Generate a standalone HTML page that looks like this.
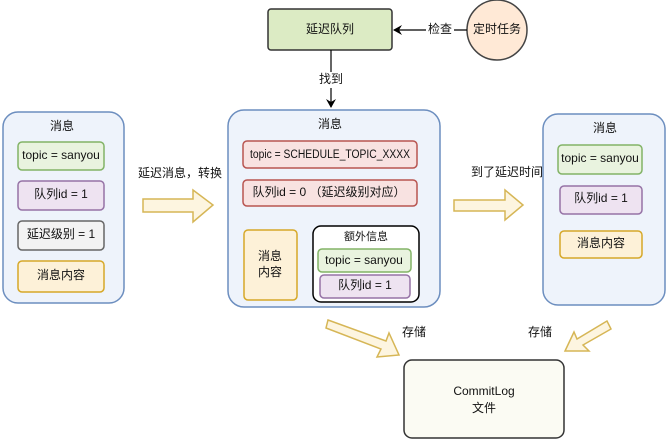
<!DOCTYPE html>
<html><head><meta charset="utf-8"><style>
html,body{margin:0;padding:0;background:#fff;}
svg{display:block;}
text{font-family:"Liberation Sans","Noto Sans CJK SC",sans-serif;font-size:12px;fill:#111;text-anchor:middle;dominant-baseline:middle;}
</style></head><body>
<svg width="667" height="441" viewBox="0 0 667 441" xmlns="http://www.w3.org/2000/svg">
<defs>
<marker id="ah" markerWidth="10" markerHeight="10" refX="8" refY="5" orient="auto" markerUnits="userSpaceOnUse"><path d="M0,0 L9,5 L0,10 L3,5 Z" fill="#000"/></marker>
</defs>
<rect x="268" y="9" width="124" height="41" rx="3" fill="#dcebc4" stroke="#333" stroke-width="1.5"/>
<text x="330" y="30">延迟队列</text>
<circle cx="497" cy="30" r="30" fill="#ffe9d6" stroke="#444" stroke-width="1.5"/>
<text x="497" y="30">定时任务</text>
<line x1="467" y1="30" x2="394" y2="30" stroke="#000" stroke-width="1.2" marker-end="url(#ah)"/>
<rect x="426" y="22" width="28" height="16" fill="#fff"/>
<text x="440" y="30">检查</text>
<line x1="331" y1="50" x2="331" y2="107" stroke="#000" stroke-width="1.2" marker-end="url(#ah)"/>
<rect x="318" y="72" width="26" height="16" fill="#fff"/>
<text x="331" y="80">找到</text>

<rect x="3" y="112" width="121" height="191" rx="15" fill="#eef3fb" stroke="#6c8ebf" stroke-width="1.5"/>
<text x="62" y="127">消息</text>
<rect x="18" y="142" width="86" height="28" rx="4" fill="#e9f3df" stroke="#82b366" stroke-width="1.5"/>
<text x="61" y="156">topic = sanyou</text>
<rect x="18" y="181" width="86" height="29" rx="4" fill="#eee3f1" stroke="#9673a6" stroke-width="1.5"/>
<text x="61" y="195">队列id = 1</text>
<rect x="18" y="221" width="86" height="29" rx="4" fill="#f3f3f3" stroke="#666" stroke-width="1.5"/>
<text x="61" y="235">延迟级别 = 1</text>
<rect x="18" y="261" width="86" height="31" rx="4" fill="#fdf1d8" stroke="#d6a828" stroke-width="1.5"/>
<text x="61" y="276">消息内容</text>

<text x="180" y="174">延迟消息，转换</text>
<path d="M143,199 L193,199 L193,190 L213,205 L193,222 L193,212 L143,212 Z" fill="#fdf5e0" stroke="#d6b656" stroke-width="1.5"/>

<rect x="228" y="110" width="212" height="197" rx="16" fill="#eef3fb" stroke="#6c8ebf" stroke-width="1.5"/>
<text x="330" y="125">消息</text>
<rect x="243" y="141" width="174" height="27" rx="4" fill="#f8e2e1" stroke="#b85450" stroke-width="1.5"/>
<text x="330" y="155" style="font-size:11.5px" textLength="160" lengthAdjust="spacingAndGlyphs">topic = SCHEDULE_TOPIC_XXXX</text>
<rect x="243" y="180" width="174" height="26" rx="4" fill="#f8e2e1" stroke="#b85450" stroke-width="1.5"/>
<text x="329" y="193">队列id = 0 （延迟级别对应）</text>
<rect x="244" y="230" width="53" height="70" rx="4" fill="#fdf1d8" stroke="#d6a828" stroke-width="1.5"/>
<text x="270" y="257">消息</text>
<text x="270" y="273">内容</text>
<rect x="313" y="226" width="106" height="76" rx="8" fill="#fff" stroke="#000" stroke-width="1.5"/>
<text x="366" y="237" style="font-size:11px">额外信息</text>
<rect x="318" y="249" width="93" height="23" rx="4" fill="#e9f3df" stroke="#82b366" stroke-width="1.5"/>
<text x="364" y="261">topic = sanyou</text>
<rect x="320" y="275" width="90" height="23" rx="4" fill="#eee3f1" stroke="#9673a6" stroke-width="1.5"/>
<text x="365" y="286">队列id = 1</text>

<text x="507" y="173">到了延迟时间</text>
<path d="M454,200 L505,200 L505,190 L523,205 L505,220 L505,211 L454,211 Z" fill="#fdf5e0" stroke="#d6b656" stroke-width="1.5"/>

<rect x="543" y="114" width="122" height="191" rx="15" fill="#eef3fb" stroke="#6c8ebf" stroke-width="1.5"/>
<text x="605" y="129">消息</text>
<rect x="558" y="145" width="84" height="29" rx="4" fill="#e9f3df" stroke="#82b366" stroke-width="1.5"/>
<text x="600" y="159">topic = sanyou</text>
<rect x="560" y="186" width="82" height="28" rx="4" fill="#eee3f1" stroke="#9673a6" stroke-width="1.5"/>
<text x="601" y="199">队列id = 1</text>
<rect x="560" y="231" width="82" height="27" rx="4" fill="#fdf1d8" stroke="#d6a828" stroke-width="1.5"/>
<text x="601" y="244">消息内容</text>

<path d="M328,320 L386,341 L389,333 L399,355 L377,357 L381,349 L326,328 Z" fill="#fdf5e0" stroke="#d6b656" stroke-width="1.5"/>
<text x="414" y="333">存储</text>
<path d="M607,321 L577,339 L574,332 L565,351 L589,351 L583,345 L611,329 Z" fill="#fdf5e0" stroke="#d6b656" stroke-width="1.5"/>
<text x="540" y="333">存储</text>

<rect x="404" y="360" width="160" height="78" rx="8" fill="#fbfbf3" stroke="#333" stroke-width="1.5"/>
<text x="484" y="392">CommitLog</text>
<text x="484" y="409">文件</text>
</svg>
</body></html>
